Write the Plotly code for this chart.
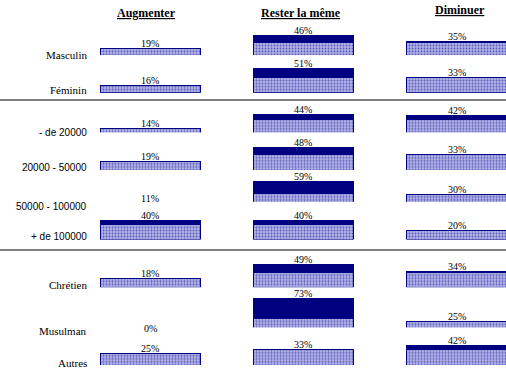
import plotly.graph_objects as go

# ---- data ----
columns = ["Augmenter", "Rester la même", "Diminuer"]
rows = ["Masculin", "Féminin", "- de 20000", "20000 - 50000", "50000 - 100000",
        "+ de 100000", "Chrétien", "Musulman", "Autres"]
augmenter = [19, 16, 14, 19, 11, 40, 18, 0, 25]
rester = [46, 51, 44, 48, 59, 40, 49, 73, 33]
diminuer = [35, 33, 42, 33, 30, 20, 34, 25, 42]

# ---- layout / style ----
W, H = 506, 369
baselines = [57.5, 92.7, 135, 170, 209, 239.5, 287.3, 333.3, 365]  # row baseline (px from top)
sans_rows = {2, 3, 4, 5}
title_xshift = [-4, -2, 3]
title_ytop = [13, 13, 10]
YMAX = 80.0
PX_PER_UNIT = 0.47
AX_H = YMAX * PX_PER_UNIT
SPLIT = 32  # hatched lower part up to this value, solid navy above
NAVY = "#000080"
SERIF = "Liberation Serif"
SANS = "Liberation Sans"
BAR_W = 0.6525

fig = go.Figure()
layout_axes = {}
annotations = []

for i, name in enumerate(rows):
    vals = [augmenter[i], rester[i], diminuer[i]]
    yname = "y" if i == 0 else f"y{i+1}"
    ykey = "yaxis" if i == 0 else f"yaxis{i+1}"
    bottom = (H - baselines[i]) / H
    top = bottom + AX_H / H
    layout_axes[ykey] = dict(domain=[bottom, min(top, 1.0)], range=[0, YMAX],
                             visible=False, anchor="x", fixedrange=True)
    low = [min(v, SPLIT) if v > 0 else None for v in vals]
    high = [(v - SPLIT) if v > SPLIT else None for v in vals]
    fig.add_trace(go.Bar(
        x=columns, y=low, yaxis=yname, xaxis="x", width=BAR_W,
        marker=dict(color="white",
                    pattern=dict(shape=".", fgcolor=NAVY, bgcolor="#b4b4ea", size=3, solidity=0.35),
                    line=dict(color=NAVY, width=1)),
        hoverinfo="skip"))
    fig.add_trace(go.Bar(
        x=columns, y=high, yaxis=yname, xaxis="x", width=BAR_W,
        marker=dict(color=NAVY, line=dict(color=NAVY, width=1)),
        hoverinfo="skip"))
    for c, v in zip(columns, vals):
        annotations.append(dict(x=c, y=v, xref="x", yref=yname, text=f"{v}%",
                                showarrow=False, yanchor="middle", yshift=5,
                                font=dict(family=SERIF, size=10, color="black")))
    annotations.append(dict(x=89 / W, xref="paper", y=0, yref=f"{yname} domain",
                            text=name, showarrow=False, xanchor="right",
                            yanchor="middle", yshift=2.5,
                            font=dict(family=SANS if i in sans_rows else SERIF,
                                      size=10 if i in sans_rows else 11, color="black")))

for j, c in enumerate(columns):
    annotations.append(dict(x=c, xref="x", y=(H - title_ytop[j]) / H, yref="paper",
                            xshift=title_xshift[j],
                            text=f"<b><u>{c}</u></b>", showarrow=False,
                            xanchor="center", yanchor="middle",
                            font=dict(family=SERIF, size=12, color="black")))

shapes = []
for yp in (100, 250):
    shapes.append(dict(type="line", xref="paper", yref="paper", x0=0, x1=1,
                       y0=(H - yp) / H, y1=(H - yp) / H,
                       line=dict(color="#555555", width=1.5)))

fig.update_layout(
    width=W, height=H, margin=dict(l=0, r=0, t=0, b=0),
    barmode="stack", showlegend=False,
    paper_bgcolor="white", plot_bgcolor="white",
    xaxis=dict(range=[-0.979, 2.323], visible=False, fixedrange=True,
               categoryorder="array", categoryarray=columns),
    annotations=annotations, shapes=shapes,
    **layout_axes,
)

fig.write_html("out.html", config={"displayModeBar": False},
               post_script="document.body.style.margin='0';document.body.style.overflow='hidden';")
